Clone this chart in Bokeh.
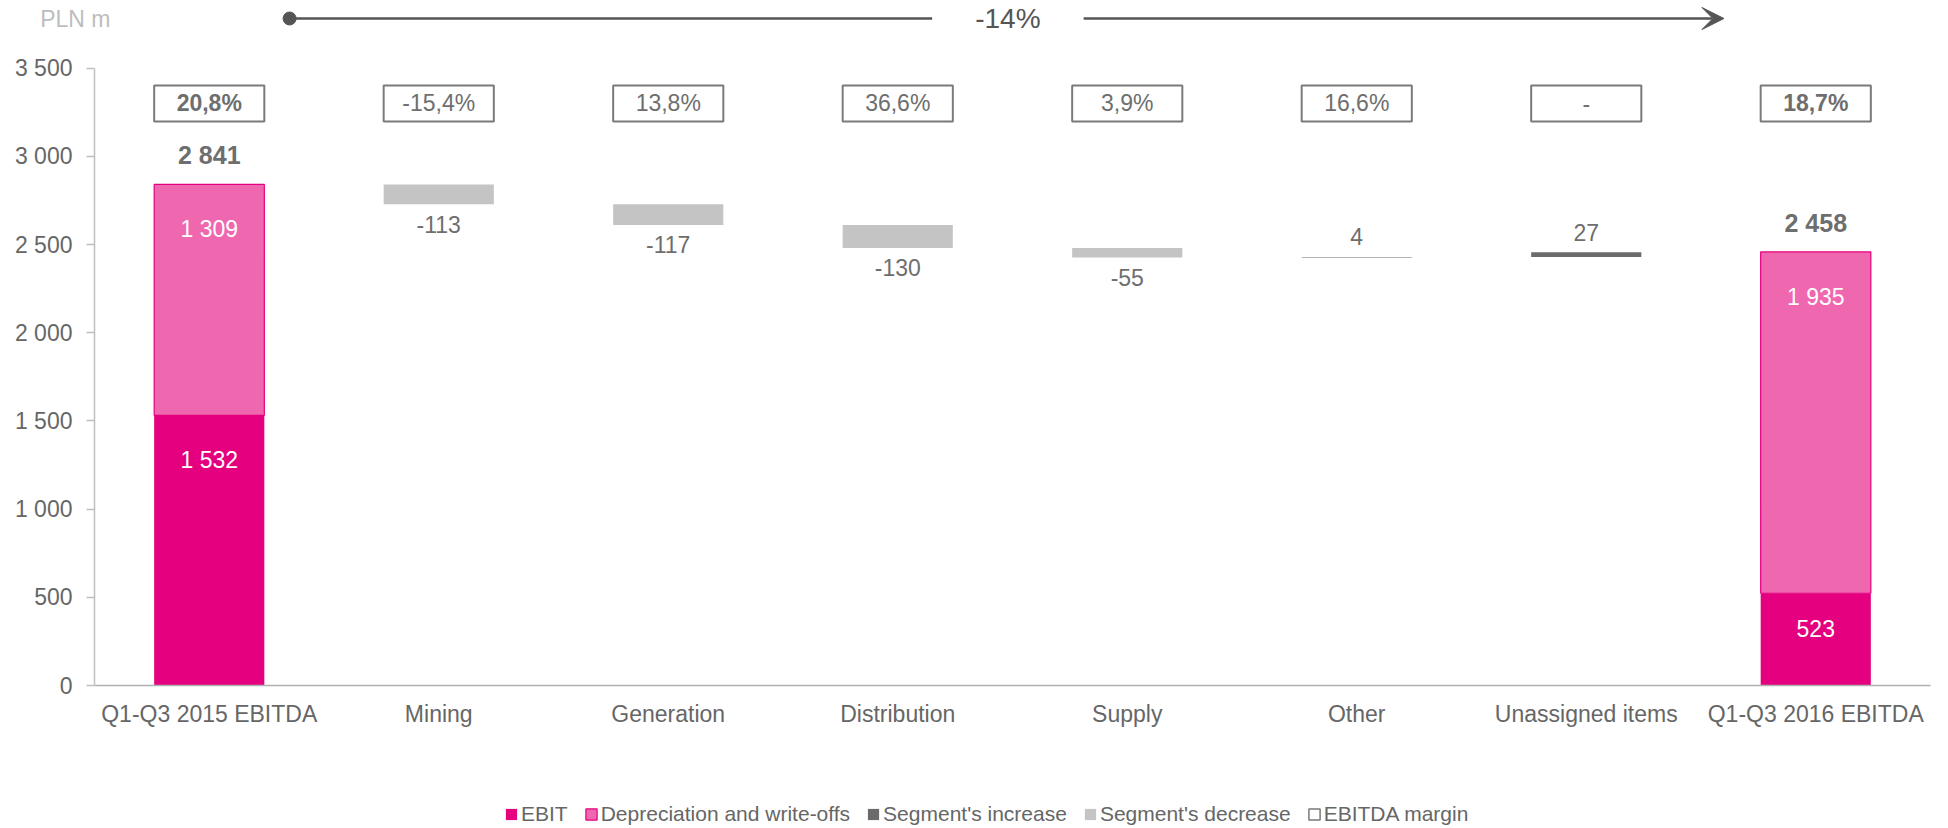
from bokeh.plotting import figure
from bokeh.layouts import column
from bokeh.models import (ColumnDataSource, FactorRange, Range1d, Legend, LegendItem,
                          Arrow, VeeHead, FixedTicker)
from bokeh.embed import file_html
from bokeh.resources import INLINE
from bokeh.core.properties import value

# ---------------- data ----------------
categories = ["Q1-Q3 2015 EBITDA", "Mining", "Generation", "Distribution",
              "Supply", "Other", "Unassigned items", "Q1-Q3 2016 EBITDA"]
total_cats = ["Q1-Q3 2015 EBITDA", "Q1-Q3 2016 EBITDA"]
ebit = [1532, 523]
depreciation = [1309, 1935]
totals = [2841, 2458]
segment_cats = ["Mining", "Generation", "Distribution", "Supply", "Other", "Unassigned items"]
segment_changes = [-113, -117, -130, -55, 4, 27]
margins = ["20,8%", "-15,4%", "13,8%", "36,6%", "3,9%", "16,6%", "-", "18,7%"]
overall_change = "-14%"
y_ticks = [0, 500, 1000, 1500, 2000, 2500, 3000, 3500]
y_tick_labels = ["0", "500", "1 000", "1 500", "2 000", "2 500", "3 000", "3 500"]
unit_label = "PLN m"
legend_labels = ["EBIT", "Depreciation and write-offs", "Segment's increase",
                 "Segment's decrease", "EBITDA margin"]

# ---------------- layout constants ----------------
W = 1948
STRIP_H = 40
MAIN_H = 760
LEG_H = 28
FRAME_H = 645
Y_TOP = 3657
U = Y_TOP / FRAME_H   # data units per screen px
LEFT, RIGHT = 94, 18
N = len(categories)
BAR_W = 0.48
FONT = "Liberation Sans"
TXT = "#6E6E6E"
AX = "#666666"
C_EBIT = "#E4007E"
C_DA = "#EF67AF"
C_INC = "#6B6B6B"
C_DEC = "#C4C4C4"
BOX_LINE = "#7A7A7A"
ARROW_C = "#555555"


def fmt(v):
    s = f"{abs(v):,}".replace(",", " ")
    return ("-" if v < 0 else "") + s


# ================= top strip: unit + overall change arrow =================
st = figure(width=W, height=STRIP_H, x_range=Range1d(0, N), y_range=Range1d(0, STRIP_H),
            output_backend="svg", toolbar_location=None,
            min_border_left=LEFT, min_border_right=RIGHT, min_border_top=0, min_border_bottom=0)
st.outline_line_color = None
st.xaxis.visible = False
st.xgrid.visible = False
st.ygrid.visible = False
ay = STRIP_H - 18
sy = st.yaxis[0]
sy.ticker = FixedTicker(ticks=[ay])
sy.major_label_overrides = {ay: unit_label}
sy.axis_line_color = None
sy.major_tick_out = 0
sy.major_tick_in = 0
sy.minor_tick_out = 0
sy.minor_tick_in = 0
sy.major_label_standoff = -16
sy.major_label_text_font = FONT
sy.major_label_text_font_size = "23px"
sy.major_label_text_color = "#BDBDBD"

st.segment(x0=[0.85], y0=[ay], x1=[3.65], y1=[ay], line_color=ARROW_C, line_width=2.5)
st.scatter(x=[0.85], y=[ay], size=13, fill_color=ARROW_C, line_color=ARROW_C)
st.add_layout(Arrow(x_start=4.31, y_start=ay, x_end=7.10, y_end=ay,
                    line_color=ARROW_C, line_width=2.5,
                    end=VeeHead(size=22, fill_color=ARROW_C, line_color=ARROW_C)))
st.text(x=[3.98], y=[ay], text=[overall_change], text_font=value(FONT),
        text_font_size=value("28px"), text_color=ARROW_C, text_align="center",
        text_baseline="middle")

# ================= main chart =================
p = figure(width=W, height=MAIN_H, x_range=FactorRange(factors=categories, range_padding=0),
           y_range=Range1d(0, Y_TOP), output_backend="svg", toolbar_location=None,
           min_border_left=LEFT, min_border_right=RIGHT, min_border_top=0,
           min_border_bottom=MAIN_H - FRAME_H)
p.outline_line_color = None
p.xgrid.visible = False
p.ygrid.visible = False

src_tot = ColumnDataSource(dict(x=total_cats, ebit=ebit,
                                top=[e + d for e, d in zip(ebit, depreciation)],
                                zero=[0] * len(ebit)))
p.vbar(x="x", bottom="zero", top="ebit", width=BAR_W, source=src_tot,
       fill_color=C_EBIT, line_color=None)
p.vbar(x="x", bottom="ebit", top="top", width=BAR_W, source=src_tot,
       fill_color=C_DA, line_color=C_EBIT, line_width=1.2)

level = totals[0]
inc = dict(x=[], bottom=[], top=[])
dec = dict(x=[], bottom=[], top=[])
seg_label = dict(x=[], y=[], text=[])
for c, v in zip(segment_cats, segment_changes):
    new = level + v
    d = inc if v > 0 else dec
    d["x"].append(c)
    d["bottom"].append(min(level, new))
    d["top"].append(max(level, new))
    seg_label["x"].append(c)
    if v > 0:
        seg_label["y"].append(max(level, new) + 20 * U)
    else:
        seg_label["y"].append(min(level, new) - 20 * U)
    seg_label["text"].append(fmt(v))
    level = new

p.vbar(x="x", bottom="bottom", top="top", width=BAR_W, source=ColumnDataSource(inc),
       fill_color=C_INC, line_color=None)
p.vbar(x="x", bottom="bottom", top="top", width=BAR_W, source=ColumnDataSource(dec),
       fill_color=C_DEC, line_color=None)

# EBITDA margin boxes
box_y = 3300
p.rect(x=categories, y=[box_y] * N, width=BAR_W, height=204,
       fill_color="white", line_color=BOX_LINE, line_width=2)
bold_idx = [0, N - 1]
p.text(x=[c for i, c in enumerate(categories) if i not in bold_idx],
       y=[box_y] * (N - 2),
       text=[m for i, m in enumerate(margins) if i not in bold_idx],
       text_font=value(FONT), text_font_size=value("23px"), text_color=TXT,
       text_align="center", text_baseline="middle")
p.text(x=[categories[i] for i in bold_idx], y=[box_y] * 2,
       text=[margins[i] for i in bold_idx],
       text_font=value(FONT), text_font_size=value("23px"), text_font_style="bold",
       text_color=TXT, text_align="center", text_baseline="middle")

# data labels
p.text(x="x", y="y", text="text", source=ColumnDataSource(seg_label),
       text_font=value(FONT), text_font_size=value("23px"), text_color=TXT,
       text_align="center", text_baseline="middle")
p.text(x=total_cats, y=[t + 29 * U for t in totals], text=[fmt(t) for t in totals],
       text_font=value(FONT), text_font_size=value("25px"), text_font_style="bold",
       text_color=TXT, text_align="center", text_baseline="middle")


def inside_y(bottom, top):
    seg_px = (top - bottom) / U
    return top - min(45, 0.38 * seg_px) * U


in_x, in_y, in_t = [], [], []
for c, e, d in zip(total_cats, ebit, depreciation):
    in_x += [c, c]
    in_y += [inside_y(0, e), inside_y(e, e + d)]
    in_t += [fmt(e), fmt(d)]
p.text(x=in_x, y=in_y, text=in_t, text_font=value(FONT), text_font_size=value("23px"),
       text_color="white", text_align="center", text_baseline="middle")

# axes
yax = p.yaxis[0]
yax.ticker = FixedTicker(ticks=y_ticks)
yax.major_label_overrides = {t: l for t, l in zip(y_ticks, y_tick_labels)}
yax.bounds = (y_ticks[0], y_ticks[-1])
yax.axis_line_color = "#BFBFBF"
yax.axis_line_width = 1.5
yax.major_tick_line_color = "#BFBFBF"
yax.major_tick_line_width = 1.5
yax.major_tick_out = 8
yax.major_tick_in = 0
yax.minor_tick_out = 0
yax.minor_tick_in = 0
yax.major_label_standoff = 14
yax.major_label_text_font = FONT
yax.major_label_text_font_size = "23px"
yax.major_label_text_color = AX

xax = p.xaxis[0]
xax.axis_line_color = "#B0B0B0"
xax.axis_line_width = 1.5
xax.major_tick_out = 0
xax.major_tick_in = 0
xax.minor_tick_out = 0
xax.major_label_standoff = 15
xax.major_label_text_font = FONT
xax.major_label_text_font_size = "23px"
xax.major_label_text_color = AX

# ================= legend strip =================
lg = figure(width=W, height=LEG_H, x_range=Range1d(0, 1), y_range=Range1d(0, 1),
            output_backend="svg", toolbar_location=None,
            min_border_left=LEFT, min_border_right=RIGHT, min_border_top=0, min_border_bottom=0)
lg.outline_line_color = None
lg.axis.visible = False
lg.xgrid.visible = False
lg.ygrid.visible = False
far = dict(x=[5], y=[5])
styles = [dict(fill_color=C_EBIT, line_color=None),
          dict(fill_color=C_DA, line_color=C_EBIT, line_width=1.2),
          dict(fill_color=C_INC, line_color=None),
          dict(fill_color=C_DEC, line_color=None),
          dict(fill_color="white", line_color=BOX_LINE, line_width=1.5)]
items = []
for lab, stl in zip(legend_labels, styles):
    r = lg.rect(x="x", y="y", width=1, height=1, source=ColumnDataSource(far), **stl)
    items.append(LegendItem(label=lab, renderers=[r]))
legend = Legend(items=items, orientation="horizontal", location=(410, 2),
                label_text_font=FONT, label_text_font_size="21px", label_text_color=AX,
                glyph_width=14, glyph_height=14, label_standoff=3, spacing=16,
                padding=0, margin=0, border_line_color=None, background_fill_alpha=0,
                label_height=20)
lg.add_layout(legend, "center")

layout = column(st, p, lg, spacing=0)
open("out.html", "w").write(file_html(layout, INLINE))
